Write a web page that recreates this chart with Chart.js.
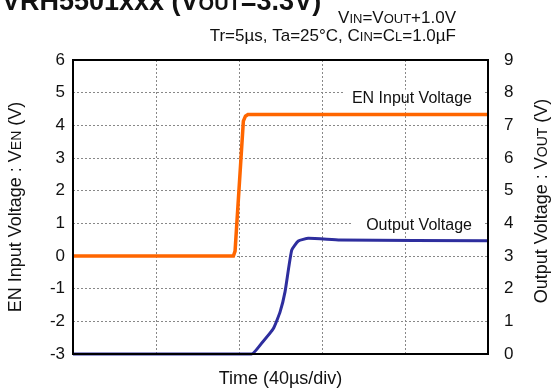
<!DOCTYPE html>
<html>
<head>
<meta charset="utf-8">
<script src="https://cdn.jsdelivr.net/npm/chart.js@4.4.1/dist/chart.umd.min.js"></script>
<style>
  html, body { margin: 0; padding: 0; background: #fff; }
  #wrap { width: 555px; height: 390px; }
</style>
</head>
<body>
<div id="wrap"><canvas id="startupChart"></canvas></div>
<script>
// EN input step (left axis) and output voltage response (right axis), time in µs
const enTime = [0, 77.3, 78.1, 82.1, 83.1, 84.3, 200];
const enVolt = [0, 0, 0.15, 4.13, 4.28, 4.33, 4.33];

const outTime = [0, 86.1, 90.9, 96.5, 99.8, 102.2, 105.4, 108.6, 113.4, 128.7, 200];
const outVolt = [0, 0, 0.33, 0.77, 1.29, 1.91, 3.18, 3.46, 3.54, 3.49, 3.47];

const leftTicks = [-3, -2, -1, 0, 1, 2, 3, 4, 5, 6];
const rightTicks = [0, 1, 2, 3, 4, 5, 6, 7, 8, 9];
const timeTicks = [0, 40, 80, 120, 160, 200];

const FONT = 'Arial, "Liberation Sans", sans-serif';

// draws text made of [string, fontSize] pieces, smaller pieces used as small caps
function drawParts(ctx, parts, x, y, align, bold) {
  const w = parts.reduce((s, p) => {
    ctx.font = (bold ? 'bold ' : '') + p[1] + 'px ' + FONT;
    return s + ctx.measureText(p[0]).width;
  }, 0);
  let cx = align === 'right' ? x - w : align === 'center' ? x - w / 2 : x;
  ctx.textAlign = 'left';
  ctx.textBaseline = 'alphabetic';
  parts.forEach(p => {
    ctx.font = (bold ? 'bold ' : '') + p[1] + 'px ' + FONT;
    ctx.fillText(p[0], cx, y);
    cx += ctx.measureText(p[0]).width;
  });
}

const labelBoxes = {
  id: 'labelBoxes',
  beforeDatasetsDraw(chart) {
    const ctx = chart.ctx;
    const yL = chart.scales.y;
    ctx.save();
    ctx.fillStyle = '#fff';
    ctx.fillRect(343, yL.getPixelForValue(5) - 3, 140, 6);
    ctx.fillRect(353, yL.getPixelForValue(1) - 3, 130, 6);
    ctx.fillStyle = '#111';
    drawParts(ctx, [['EN Input Voltage', 16]], 472, yL.getPixelForValue(5) + 10, 'right');
    drawParts(ctx, [['Output Voltage', 16]], 472, yL.getPixelForValue(1) + 7, 'right');
    ctx.restore();
  }
};

const frameAndText = {
  id: 'frameAndText',
  afterDraw(chart) {
    const ctx = chart.ctx;
    const a = chart.chartArea;
    ctx.save();
    ctx.strokeStyle = '#000';
    ctx.lineWidth = 2;
    ctx.strokeRect(a.left, a.top, a.right - a.left, a.bottom - a.top);

    ctx.fillStyle = '#111';
    drawParts(ctx, [['VRH5501xxx (V', 27], ['OUT', 20], ['=3.3V)', 27]], 2, 10, 'left', true);
    drawParts(ctx, [['V', 17], ['IN', 13], ['=V', 17], ['OUT', 13], ['+1.0V', 17]], 456, 23, 'right');
    drawParts(ctx, [['Tr=5µs, Ta=25°C, C', 17], ['IN', 13], ['=C', 17], ['L', 13], ['=1.0µF', 17]], 456, 41, 'right');
    drawParts(ctx, [['Time (40µs/div)', 18]], (a.left + a.right) / 2, 384, 'center');

    const midY = (a.top + a.bottom) / 2;
    ctx.save();
    ctx.translate(21, midY);
    ctx.rotate(-Math.PI / 2);
    drawParts(ctx, [['EN Input Voltage : V', 18], ['EN', 14], [' (V)', 18]], 0, 0, 'center');
    ctx.restore();
    ctx.save();
    ctx.translate(547, midY - 6);
    ctx.rotate(-Math.PI / 2);
    drawParts(ctx, [['Output Voltage : V', 18], ['OUT', 14], [' (V)', 18]], 0, 0, 'center');
    ctx.restore();
    ctx.restore();
  }
};

const gridStyle = { color: '#888', lineWidth: 1, drawTicks: false };
const dotted = { display: false, dash: [2, 2] };

new Chart(document.getElementById('startupChart').getContext('2d'), {
  type: 'line',
  data: {
    datasets: [
      {
        label: 'EN Input Voltage',
        data: enTime.map((t, i) => ({ x: t, y: enVolt[i] })),
        yAxisID: 'y',
        borderColor: '#FF6600',
        borderWidth: 3.5,
        pointRadius: 0,
        tension: 0,
        clip: 4,
      },
      {
        label: 'Output Voltage',
        data: outTime.map((t, i) => ({ x: t, y: outVolt[i] })),
        yAxisID: 'y2',
        borderColor: '#2E2E9E',
        borderWidth: 3,
        pointRadius: 0,
        tension: 0.15,
        clip: 4,
      },
    ],
  },
  options: {
    responsive: true,
    maintainAspectRatio: false,
    animation: false,
    layout: { padding: { top: 60, bottom: 36, left: 0, right: 0 } },
    plugins: {
      legend: { display: false },
      tooltip: { enabled: false },
    },
    scales: {
      x: {
        type: 'linear',
        min: timeTicks[0],
        max: timeTicks[timeTicks.length - 1],
        afterBuildTicks: (s) => { s.ticks = timeTicks.map(v => ({ value: v })); },
        ticks: { display: false },
        grid: gridStyle,
        border: dotted,
        afterFit: (s) => { s.height = 0; },
      },
      y: {
        position: 'left',
        min: leftTicks[0],
        max: leftTicks[leftTicks.length - 1],
        afterBuildTicks: (s) => { s.ticks = leftTicks.map(v => ({ value: v })); },
        ticks: { color: '#111', padding: 8, font: { family: FONT, size: 17 } },
        grid: gridStyle,
        border: dotted,
        afterFit: (s) => { s.width = 73; },
      },
      y2: {
        position: 'right',
        min: rightTicks[0],
        max: rightTicks[rightTicks.length - 1],
        afterBuildTicks: (s) => { s.ticks = rightTicks.map(v => ({ value: v })); },
        ticks: { color: '#111', padding: 8, font: { family: FONT, size: 17 } },
        grid: { display: false },
        border: { display: false },
        afterFit: (s) => { s.width = 67; },
      },
    },
  },
  plugins: [labelBoxes, frameAndText],
});
</script>
</body>
</html>
